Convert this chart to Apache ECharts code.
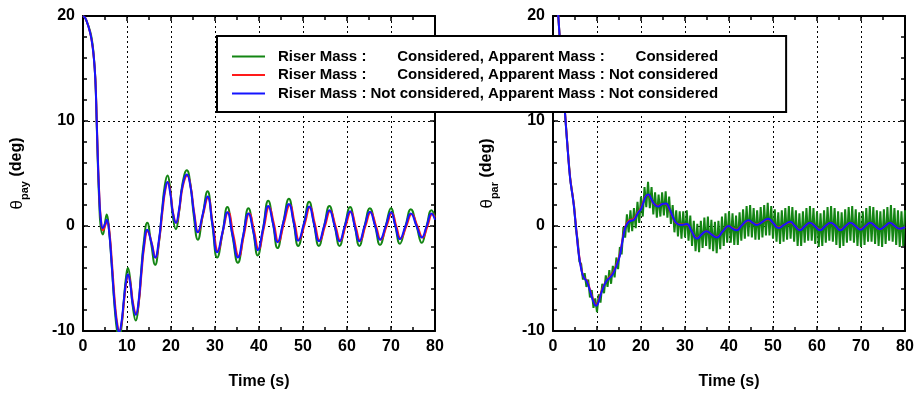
<!DOCTYPE html>
<html><head><meta charset="utf-8">
<script src="https://cdn.jsdelivr.net/npm/echarts@6/dist/echarts.min.js"></script>
<style>html,body{margin:0;padding:0;background:#fff}#c{width:920px;height:395px}</style>
</head><body><div id="c"></div>
<script>
// ---------- data ----------
const xTickValues = [0, 10, 20, 30, 40, 50, 60, 70, 80];
const yTickValues = [-10, 0, 10, 20];
const xTitle = 'Time (s)';
const yTitleSubs = ['pay', 'par'];

const seriesNames = [
  'Riser Mass : Considered, Apparent Mass : Considered',
  'Riser Mass : Considered, Apparent Mass : Not considered',
  'Riser Mass : Not considered, Apparent Mass : Not considered'
];
const legendRiser = ['Considered,', 'Considered,', 'Not considered,'];
const legendApparent = ['Considered', 'Not considered', 'Not considered'];

// theta_pay, left panel  [time, deg]
const payGreen = [[0,20],[0.5,19.8],[1,19.3],[1.5,18.7],[2,17.8],[2.4,16.4],[2.8,14.0],[3.1,10.0],[3.4,5.6],[3.7,2.2],[4.0,0.0],[4.5,-0.8],[5.0,0.3],[5.4,1.1],[5.9,-0.3],[6.5,-3.6],[7.2,-7.8],[7.8,-10.2],[8.2,-10.8],[8.7,-9.8],[9.3,-7.0],[9.8,-4.8],[10.2,-4.0],[10.7,-5.0],[11.3,-7.6],[12.0,-9.0],[12.6,-7.6],[13.2,-4.4],[13.8,-1.6],[14.6,0.3],[15.5,-1.7],[16.4,-3.7],[17.2,-1.8],[18.0,1.6],[18.6,3.9],[19.2,4.8],[19.8,3.6],[20.4,1.0],[21.1,-0.3],[21.8,1.2],[22.6,4.0],[23.6,5.3],[24.4,4.0],[25.2,0.9],[26.1,-1.3],[27.2,1.0],[28.3,3.3],[29.4,0.1],[30.5,-3.0],[31.7,-0.7],[32.8,1.8],[34,-1.0],[35.2,-3.5],[36.4,-1.0],[37.6,1.7],[38.7,-0.5],[39.7,-2.8],[40.9,-0.3],[42.1,2.4],[43.2,0.2],[44.2,-2.1],[45.5,0.3],[46.8,2.6],[47.9,0.3],[48.9,-1.9],[50.2,0.2],[51.4,2.3],[52.5,0.2],[53.6,-1.9],[54.8,0],[56.0,1.9],[57.2,0],[58.3,-1.9],[59.5,0],[60.7,1.8],[61.8,-0.1],[62.8,-1.9],[64,0],[65.2,1.7],[66.4,0],[67.5,-1.8],[68.8,0],[70,1.7],[71,0],[72,-1.7],[73.3,0],[74.5,1.6],[75.8,0],[77,-1.6],[78.1,0],[79.2,1.5],[80,0.9]];
const payRed = [[0,20],[0.5,19.8],[1,19.3],[1.5,18.6],[2,17.6],[2.4,16.3],[2.8,14.1],[3.1,10.4],[3.4,6.2],[3.7,3.0],[4.0,1.0],[4.6,-0.4],[5.1,0.1],[5.5,0.5],[6.0,-0.5],[6.6,-3.6],[7.3,-7.5],[7.9,-9.6],[8.3,-10.0],[8.8,-9.2],[9.4,-6.9],[9.9,-5.2],[10.3,-4.7],[10.8,-5.5],[11.4,-7.4],[12.1,-8.4],[12.7,-7.2],[13.3,-4.5],[13.9,-2.0],[14.7,-0.5],[15.6,-1.6],[16.5,-3.0],[17.3,-1.4],[18.1,1.5],[18.7,3.4],[19.3,4.2],[19.9,3.1],[20.5,1.2],[21.2,0.3],[21.9,1.6],[22.7,3.8],[23.7,4.8],[24.5,3.7],[25.3,1.2],[26.2,-0.6],[27.3,1.1],[28.4,2.7],[29.5,0.2],[30.7,-2.4],[31.8,-0.5],[33.0,1.3],[34.2,-0.9],[35.4,-2.9],[36.6,-0.8],[37.8,1.2],[38.9,-0.5],[39.9,-2.2],[41.1,-0.2],[42.3,1.8],[43.4,0.2],[44.4,-1.5],[45.7,0.3],[47.0,2.0],[48.1,0.3],[49.1,-1.35],[50.4,0.2],[51.6,1.8],[52.7,0.2],[53.8,-1.4],[55.0,0.0],[56.2,1.45],[57.4,0.0],[58.5,-1.4],[59.7,0.0],[60.9,1.35],[62.0,-0.1],[63.0,-1.4],[64.2,0.0],[65.4,1.3],[66.6,0.0],[67.7,-1.3],[69.0,0.0],[70.2,1.25],[71.2,0.0],[72.2,-1.2],[73.5,0.0],[74.7,1.15],[76.0,0.0],[77.2,-1.1],[78.3,0.0],[79.4,1.15],[80,0.8]];
const payBlue = [[0,20],[0.5,19.8],[1,19.3],[1.5,18.6],[2,17.6],[2.4,16.3],[2.8,14.0],[3.1,10.2],[3.4,6.0],[3.7,2.8],[4.0,0.8],[4.5,-0.2],[5.0,0.2],[5.4,0.6],[5.9,-0.4],[6.5,-3.5],[7.2,-7.5],[7.8,-9.6],[8.2,-10.1],[8.7,-9.3],[9.3,-7.0],[9.8,-5.2],[10.2,-4.6],[10.7,-5.4],[11.3,-7.4],[12.0,-8.45],[12.6,-7.3],[13.2,-4.6],[13.8,-2.0],[14.6,-0.35],[15.5,-1.5],[16.4,-3.0],[17.2,-1.5],[18.0,1.5],[18.6,3.4],[19.2,4.2],[19.8,3.2],[20.4,1.3],[21.1,0.3],[21.8,1.5],[22.6,3.8],[23.6,4.9],[24.4,3.8],[25.2,1.3],[26.1,-0.6],[27.2,1.1],[28.3,2.8],[29.4,0.2],[30.5,-2.5],[31.7,-0.6],[32.8,1.3],[34.0,-0.9],[35.2,-3.0],[36.4,-0.9],[37.6,1.2],[38.7,-0.5],[39.7,-2.3],[40.9,-0.3],[42.1,1.9],[43.2,0.2],[44.2,-1.55],[45.5,0.3],[46.8,2.1],[47.9,0.3],[48.9,-1.4],[50.2,0.2],[51.4,1.85],[52.5,0.2],[53.6,-1.45],[54.8,0.0],[56.0,1.5],[57.2,0.0],[58.3,-1.45],[59.5,0.0],[60.7,1.4],[61.8,-0.1],[62.8,-1.45],[64.0,0.0],[65.2,1.35],[66.4,0.0],[67.5,-1.3],[68.8,0.0],[70.0,1.3],[71.0,0.0],[72.0,-1.25],[73.3,0.0],[74.5,1.2],[75.8,0.0],[77.0,-1.1],[78.1,0.0],[79.2,1.2],[80,0.6]];

// theta_par, right panel  [time, deg]
const parGreen = [[0,28],[0.6,24],[1.2,20],[2.0,15],[2.7,10.9],[3.3,7.5],[3.9,4.5],[4.4,3.0],
[4.8,1.9],[5.2,-0.3],[5.6,-1.3],[6.0,-3.4],[6.4,-3.6],[6.8,-5.1],[7.2,-4.5],[7.6,-5.8],[8.0,-5.1],[8.4,-6.8],[8.8,-6.1],[9.2,-7.8],[9.6,-6.9],[10.0,-8.2],[10.4,-6.5],[10.8,-7.3],[11.2,-5.5],[11.6,-6.4],[12.0,-4.7],[12.4,-5.8],[12.8,-4.2],[13.2,-5.5],[13.6,-3.8],[14.0,-4.9],[14.4,-3.0],[14.8,-4.1],[15.2,-2.0],[15.6,-2.7],[16.0,-0.1],[16.4,-1.1],[16.8,1.1],[17.2,-0.6],[17.6,1.5],[18.0,-0.5],[18.4,1.7],[18.8,-0.2],[19.2,2.3],[19.6,0.3],[20.0,2.8],[20.4,0.9],[20.8,3.7],[21.2,1.8],[21.6,4.2],[22.0,1.7],[22.4,3.7],[22.8,1.1],[23.2,3.2],[23.6,0.8],[24.0,3.0],[24.4,0.9],[24.8,3.2],[25.2,1.0],[25.6,3.3],[26.0,0.8],[26.4,2.8],[26.8,0.2],[27.2,2.0],[27.6,-0.6],[28.0,1.5],[28.4,-1.0],[28.8,1.4],[29.2,-1.2],[29.6,1.4],[30.0,-1.1],[30.4,1.5],[30.8,-1.4],[31.2,1.0],[31.6,-1.9],[32.0,0.5],[32.4,-2.4],[32.8,0.2],[33.2,-2.5],[33.6,0.5],[34.0,-2.1],[34.4,0.8],[34.8,-1.9],[35.2,0.9],[35.6,-2.2],[36.0,0.6],[36.4,-2.4],[36.8,0.4],[37.2,-2.6],[37.6,0.5],[38.0,-2.2],[38.4,0.9],[38.8,-1.9],[39.2,1.2],[39.6,-1.6],[40.0,1.4],[40.4,-1.6],[40.8,1.2],[41.2,-1.8],[41.6,1.0],[42.0,-1.8],[42.4,1.3],[42.8,-1.4],[43.2,1.6],[43.6,-1.2],[44.0,1.9],[44.4,-1.0],[44.8,2.0],[45.2,-1.1],[45.6,1.7],[46.0,-1.3],[46.4,1.5],[46.8,-1.3],[47.2,1.8],[47.6,-1.1],[48.0,2.0],[48.4,-0.9],[48.8,2.2],[49.2,-0.9],[49.6,1.9],[50.0,-1.2],[50.4,1.6],[50.8,-1.5],[51.2,1.3],[51.6,-1.7],[52.0,1.5],[52.4,-1.5],[52.8,1.7],[53.2,-1.3],[53.6,1.9],[54.0,-1.2],[54.4,1.8],[54.8,-1.5],[55.2,1.5],[55.6,-1.9],[56.0,1.2],[56.4,-1.9],[56.8,1.4],[57.2,-1.6],[57.6,1.7],[58.0,-1.4],[58.4,1.9],[58.8,-1.4],[59.2,1.7],[59.6,-1.7],[60.0,1.4],[60.4,-2.0],[60.8,1.2],[61.2,-1.9],[61.6,1.5],[62.0,-1.6],[62.4,1.8],[62.8,-1.4],[63.2,1.9],[63.6,-1.5],[64.0,1.7],[64.4,-1.8],[64.8,1.4],[65.2,-2.1],[65.6,1.3],[66.0,-1.9],[66.4,1.6],[66.8,-1.6],[67.2,1.8],[67.6,-1.4],[68.0,1.9],[68.4,-1.6],[68.8,1.6],[69.2,-1.9],[69.6,1.3],[70.0,-2.0],[70.4,1.4],[70.8,-1.8],[71.2,1.7],[71.6,-1.5],[72.0,1.9],[72.4,-1.5],[72.8,1.8],[73.2,-1.7],[73.6,1.5],[74.0,-1.9],[74.4,1.4],[74.8,-2.0],[75.2,1.6],[75.6,-1.7],[76.0,1.8],[76.4,-1.4],[76.8,2.0],[77.2,-1.5],[77.6,1.7],[78.0,-1.8],[78.4,1.5],[78.8,-2.0],[79.2,1.4],[79.6,-1.9],[80.0,1.5]];
const parRed = [[0,28],[0.6,24],[1.2,20],[2.0,15.1],[2.7,11.0],[3.3,7.6],[3.9,4.6],[4.6,2.5],[5.2,0.1],[5.8,-2.4],[6.5,-4.2],[7.0,-4.9],[7.7,-5.2],[8.5,-6.2],[9.2,-7.1],[9.8,-7.5],[10.3,-7.2],[10.8,-6.5],[11.4,-5.8],[12.2,-5.2],[13,-4.8],[13.7,-4.4],[14.5,-3.6],[15.2,-2.7],[15.8,-1.3],[16.4,-0.1],[17,0.4],[17.7,0.6],[18.3,0.65],[19,1.1],[19.4,1.35],[20,1.7],[20.6,2.4],[21.2,2.9],[21.7,2.95],[22.3,2.55],[23,2.1],[23.9,1.9],[24.8,2.1],[25.7,2.1],[26.4,1.65],[27.2,0.85],[28.1,0.25],[29.2,0.15],[30.4,0.15],[31.5,-0.5],[32.7,-1.15],[33.8,-0.8],[34.9,-0.5],[36,-0.8],[37.2,-1.05],[38.6,-0.5],[39.9,0],[40.8,-0.2],[41.7,-0.35],[43,0.1],[44.4,0.5],[45.4,0.3],[46.3,0.15],[47.6,0.4],[48.9,0.65],[50,0.3],[51.2,-0.15],[52.5,0.1],[53.9,0.35],[55,0],[56.1,-0.35],[57.3,0],[58.4,0.3],[59.5,0],[60.7,-0.35],[61.9,0],[63.1,0.3],[64.2,0],[65.3,-0.35],[66.5,0],[67.6,0.3],[68.7,0],[69.9,-0.3],[71,0],[72.1,0.3],[73.2,0],[74.3,-0.3],[75.5,0],[76.6,0.3],[77.7,0],[78.8,-0.25],[80,-0.1]];
const parBlue = [[0,28],[0.6,24],[1.2,20],[2.0,15],[2.7,10.9],[3.3,7.5],[3.9,4.5],[4.6,2.4],[5.2,0],[5.8,-2.5],[6.5,-4.3],[7.0,-4.9],[7.7,-5.3],[8.5,-6.3],[9.2,-7.2],[9.8,-7.6],[10.3,-7.3],[10.8,-6.6],[11.4,-5.9],[12.2,-5.2],[13,-4.9],[13.7,-4.5],[14.5,-3.7],[15.2,-2.8],[15.8,-1.4],[16.4,-0.2],[17,0.3],[17.7,0.5],[18.3,0.55],[19,1.0],[19.4,1.3],[20,1.6],[20.6,2.3],[21.2,2.9],[21.7,3.0],[22.3,2.6],[23,2.1],[23.9,1.85],[24.8,2.1],[25.7,2.15],[26.4,1.7],[27.2,0.9],[28.1,0.25],[29.2,0.1],[30.4,0.2],[31.5,-0.5],[32.7,-1.2],[33.8,-0.8],[34.9,-0.5],[36,-0.8],[37.2,-1.1],[38.6,-0.5],[39.9,0],[40.8,-0.25],[41.7,-0.4],[43,0.1],[44.4,0.55],[45.4,0.3],[46.3,0.1],[47.6,0.4],[48.9,0.7],[50,0.3],[51.2,-0.2],[52.5,0.1],[53.9,0.4],[55,0],[56.1,-0.4],[57.3,0],[58.4,0.3],[59.5,0],[60.7,-0.4],[61.9,0],[63.1,0.3],[64.2,0],[65.3,-0.4],[66.5,0],[67.6,0.3],[68.7,0],[69.9,-0.35],[71,0],[72.1,0.3],[73.2,0],[74.3,-0.3],[75.5,0],[76.6,0.3],[77.7,0],[78.8,-0.25],[80,-0.1]];

// ---------- chart ----------
const FONT = '"Liberation Sans", Arial, sans-serif';
const COLORS = ['#138513', '#ff1a1a', '#1414ff'];
const chart = echarts.init(document.getElementById('c'), null, {renderer: 'canvas'});

const xMin = xTickValues[0], xMax = xTickValues[xTickValues.length - 1];
const yMin = yTickValues[0], yMax = yTickValues[yTickValues.length - 1];
const xInt = xTickValues[1] - xTickValues[0], yInt = yTickValues[1] - yTickValues[0];

const axisLine = {show: true, onZero: false, lineStyle: {color: '#000', width: 2}};
const labelStyle = {color: '#000', fontFamily: FONT, fontWeight: 'bold', fontSize: 16, margin: 8};
const tickStyle = {inside: true, length: 5, lineStyle: {color: '#000', width: 1.5}};

function xAxes(g) {
  return [
    {type: 'value', gridIndex: g, position: 'bottom', min: xMin, max: xMax, interval: xInt,
     axisLine, axisTick: tickStyle,
     minorTick: {show: true, splitNumber: 2, length: 4, lineStyle: {color: '#000', width: 1.5}},
     axisLabel: labelStyle,
     splitLine: {show: true, lineStyle: {color: '#000', width: 1, type: [2, 3]}},
     name: xTitle, nameLocation: 'middle', nameGap: 43,
     nameTextStyle: {color: '#000', fontFamily: FONT, fontWeight: 'bold', fontSize: 16}},
    {type: 'value', gridIndex: g, position: 'top', min: xMin, max: xMax, interval: xInt,
     axisLine, axisTick: tickStyle,
     minorTick: {show: true, splitNumber: 2, length: 4, lineStyle: {color: '#000', width: 1.5}},
     axisLabel: {show: false}, splitLine: {show: false}}
  ];
}
function yAxes(g, sub) {
  return [
    {type: 'value', gridIndex: g, position: 'left', min: yMin, max: yMax, interval: yInt,
     axisLine, axisTick: tickStyle,
     minorTick: {show: true, splitNumber: 5, length: 4, lineStyle: {color: '#000', width: 1.5}},
     axisLabel: labelStyle,
     splitLine: {show: true, lineStyle: {color: '#000', width: 1, type: [2, 3]}},
     name: '{t|θ}{s|' + sub + '}{d| (deg)}', nameLocation: 'middle', nameGap: 53,
     nameTextStyle: {color: '#000', rich: {
       t: {fontFamily: FONT, fontSize: 17, fontWeight: 'normal', color: '#000', lineHeight: 26},
       s: {fontFamily: FONT, fontSize: 11, fontWeight: 'bold', color: '#000', lineHeight: 12, verticalAlign: 'bottom'},
       d: {fontFamily: FONT, fontSize: 16, fontWeight: 'bold', color: '#000', lineHeight: 26}
     }}},
    {type: 'value', gridIndex: g, position: 'right', min: yMin, max: yMax, interval: yInt,
     axisLine, axisTick: tickStyle,
     minorTick: {show: true, splitNumber: 5, length: 4, lineStyle: {color: '#000', width: 1.5}},
     axisLabel: {show: false}, splitLine: {show: false}}
  ];
}

function lineSeries(name, data, color, xi, yi, smooth, z, w) {
  return {type: 'line', name, data, xAxisIndex: xi, yAxisIndex: yi, smooth, showSymbol: false,
          symbol: 'none', clip: true, z, lineStyle: {color, width: w}, itemStyle: {color}};
}

const legendTok = {fontFamily: FONT, fontWeight: 'bold', fontSize: 15, color: '#000', lineHeight: 17};

const option = {
  animation: false,
  backgroundColor: '#fff',
  grid: [
    {left: 83, right: 485, top: 16, bottom: 62},
    {left: 553, right: 15, top: 16, bottom: 62}
  ],
  xAxis: [...xAxes(0), ...xAxes(1)],
  yAxis: [...yAxes(0, yTitleSubs[0]), ...yAxes(1, yTitleSubs[1])],
  legend: {
    orient: 'vertical', left: 217, top: 36, itemWidth: 33, itemHeight: 2, icon: 'rect', itemGap: 3.5,
    padding: [13, 68, 11, 15], borderColor: '#000', borderWidth: 2, backgroundColor: '#fff',
    data: seriesNames, z: 10,
    formatter: function (name) {
      const i = seriesNames.indexOf(name);
      let s = '{g| }{a|Riser Mass :}';
      if (legendRiser[i].length < 12) s += '{p| }';
      s += '{b|' + legendRiser[i] + ' }{c|Apparent Mass : }';
      if (legendApparent[i].length < 11) s += '{p| }';
      s += '{d|' + legendApparent[i] + '}';
      return s;
    },
    textStyle: {rich: {
      g: Object.assign({width: 8}, legendTok),
      a: Object.assign({width: 92.5}, legendTok),
      p: Object.assign({width: 26.7}, legendTok),
      b: legendTok, c: legendTok, d: legendTok
    }}
  },
  series: [
    lineSeries(seriesNames[0], payGreen, COLORS[0], 0, 0, true, 2, 2),
    lineSeries(seriesNames[1], payRed, COLORS[1], 0, 0, true, 3, 2),
    lineSeries(seriesNames[2], payBlue, COLORS[2], 0, 0, true, 4, 2),
    lineSeries(seriesNames[0], parGreen, COLORS[0], 2, 2, false, 2, 2),
    lineSeries(seriesNames[1], parRed, COLORS[1], 2, 2, true, 3, 2),
    lineSeries(seriesNames[2], parBlue, COLORS[2], 2, 2, true, 4, 2)
  ]
};
chart.setOption(option);
</script></body></html>
